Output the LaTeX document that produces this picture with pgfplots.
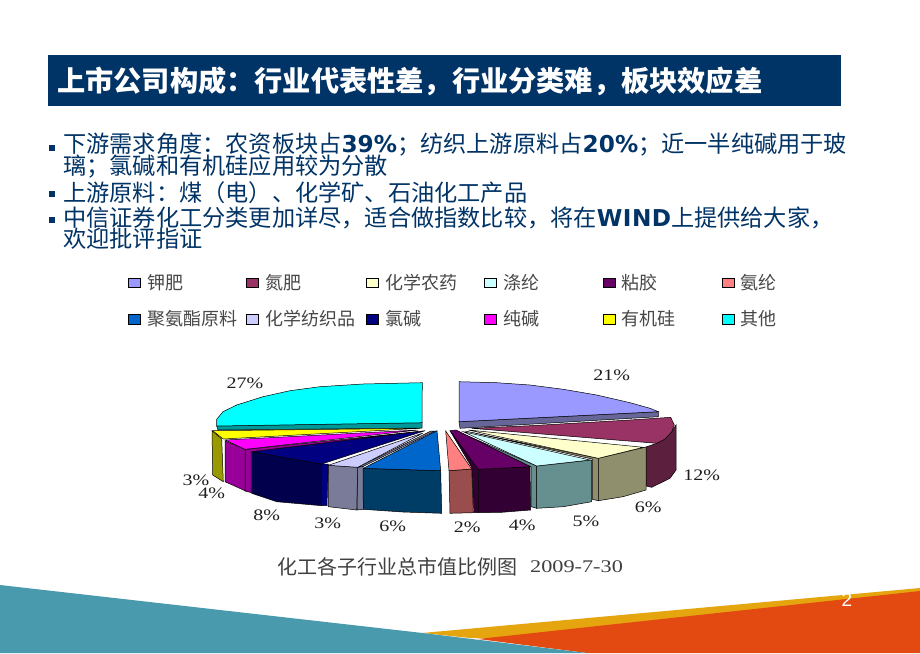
\documentclass[border=0pt]{standalone}
\usepackage{pgfplots}
\pgfplotsset{compat=1.18}
\usepackage{fontspec}
\setmainfont{Liberation Serif}
\newfontfamily\cjk{Noto Sans CJK SC}
\newfontfamily\latb{DejaVu Sans}
\newfontfamily\serifx[FakeStretch=1.25]{Liberation Serif}
\definecolor{navyb}{HTML}{003366}
\definecolor{HTMLgold}{HTML}{E5A50E}
\definecolor{HTMLred}{HTML}{E34A12}
\definecolor{HTMLteal}{HTML}{4A9AAE}
\definecolor{c01}{HTML}{9999FF}\definecolor{s01}{HTML}{666699}
\definecolor{c02}{HTML}{993366}\definecolor{s02}{HTML}{5C1F3D}
\definecolor{c03}{HTML}{FFFFCC}\definecolor{s03}{HTML}{8F8F6E}
\definecolor{c04}{HTML}{CCFFFF}\definecolor{s04}{HTML}{669090}
\definecolor{c05}{HTML}{660066}\definecolor{s05}{HTML}{330033}
\definecolor{c06}{HTML}{FF8080}\definecolor{s06}{HTML}{994D4D}
\definecolor{c07}{HTML}{0066CC}\definecolor{s07}{HTML}{003D66}
\definecolor{c08}{HTML}{CCCCFF}\definecolor{s08}{HTML}{7A7A99}
\definecolor{c09}{HTML}{000080}\definecolor{s09}{HTML}{00004D}
\definecolor{c10}{HTML}{FF00FF}\definecolor{s10}{HTML}{990099}
\definecolor{c11}{HTML}{FFFF00}\definecolor{s11}{HTML}{999900}
\definecolor{c12}{HTML}{00FFFF}\definecolor{s12}{HTML}{009999}
\newcommand{\poly}[2]{\addplot[fill=#1,draw=black,line width=0.5pt] coordinates {#2} -- cycle;}
\newcommand{\plain}[2]{\addplot[fill=#1,draw=none] coordinates {#2} -- cycle;}
\newcommand{\lab}[2]{\node[font=\serifx\fontsize{16}{16}\selectfont,text=black!88,inner sep=0pt] at (axis cs:#1) {#2};}
\newcommand{\leg}[2]{\node[anchor=west,inner sep=0pt,text=black!72,font=\cjk\fontsize{18}{18}\selectfont] at (axis cs:#1) {#2};}
\newcommand{\body}[2]{\node[anchor=west,inner sep=0pt,text=navyb,font=\cjk\fontsize{23.2}{23.2}\selectfont] at (axis cs:#1) {#2};}
\newcommand{\bl}[1]{{\latb\bfseries #1}}
\begin{document}
\begin{tikzpicture}
\begin{axis}[scale only axis,width=920pt,height=653pt,xmin=0,xmax=920,ymin=0,ymax=653,y dir=reverse,axis lines=none,no markers,clip=true]
\plain{white}{(0,0)(920,0)(920,653)(0,653)}
% footer band
\plain{white}{(458,637)(495,637)(495,641)(458,641)}
\plain{HTMLgold}{(422,633)(920,588)(920,653)(470,638)}
\plain{HTMLred}{(478,639)(920,591)(920,653)(587,653)}
\plain{HTMLteal}{(0,585)(422.6,633)(587,653)(0,653)}
% title bar and bullets
\plain{navyb}{(48,55)(841,55)(841,106)(48,106)}
\plain{navyb}{(49,144.5)(55,144.5)(55,150.5)(49,150.5)}
\plain{navyb}{(49,191)(55,191)(55,197)(49,197)}
\plain{navyb}{(49,217.3)(55,217.3)(55,223.3)(49,223.3)}
% legend swatches
\poly{c01}{(128.3,278)(140,278)(140,287)(128.3,287)}
\poly{c02}{(246.7,278)(258.3,278)(258.3,287)(246.7,287)}
\poly{c03}{(366,278)(378,278)(378,287)(366,287)}
\poly{c04}{(484.5,278)(496.5,278)(496.5,287)(484.5,287)}
\poly{c05}{(603,278)(615,278)(615,287)(603,287)}
\poly{c06}{(722.3,278)(734.3,278)(734.3,287)(722.3,287)}
\poly{c07}{(128.3,314.5)(140,314.5)(140,324)(128.3,324)}
\poly{c08}{(246.7,314.5)(258.3,314.5)(258.3,324)(246.7,324)}
\poly{c09}{(366,314.5)(378,314.5)(378,324)(366,324)}
\poly{c10}{(484.5,314.5)(496.5,314.5)(496.5,324)(484.5,324)}
\poly{c11}{(603,314.5)(615,314.5)(615,324)(603,324)}
\poly{c12}{(722.3,314.5)(734.3,314.5)(734.3,324)(722.3,324)}
% --- 21% slice
\poly{s01}{(459,421.7)(658.3,411.7)(658.3,416.7)(460,428.3)}
\poly{c01}{(459,381.7)(496.7,382.7)(530,385)(563.3,389.3)(596.7,395)(630,402.7)(650,408.3)(658.3,411.7)(459,421.7)}
% --- 27% slice
\poly{s12}{(216.7,426)(422,422.7)(422,428)(218,430)}
\poly{c12}{(422.3,382.7)(363,384)(320,386.7)(290,390.7)(263,396.7)(236.7,405)(223,411.7)(216.7,419.3)(216.7,426)(422,422.7)}
% --- 12% slice
\poly{s02}{(646,447)(656.7,443.3)(665,439)(671.7,431.7)(676,425)(676,470)(670,478.3)(651.7,487.3)(646,486)}
\poly{c02}{(471.7,428.3)(656.7,443.3)(665,439)(671.7,431.7)(674.3,425)(670.7,417.3)(630,420)(530,425.7)}
% --- 6% slice
\poly{s03}{(465,431)(592.3,459)(592.3,499.3)(598.3,500.7)(598.3,458.3)}
\poly{s03}{(598.3,458.3)(646,447)(646,490)(623,496.7)(598.3,500.7)}
\poly{c03}{(468.3,430)(598.3,458.3)(643.3,447.3)}
% --- 5% slice
\poly{s04}{(456.7,431)(531,466.7)(531,506.7)(536.7,508.3)(536.7,466)}
\poly{s04}{(536.7,466)(591.7,460)(591.7,501.7)(563.3,506.7)(536.7,508.3)}
\poly{c04}{(463.3,431.7)(536.7,466)(590,460)}
% --- 4% slice
\poly{s05}{(450,430.7)(478.3,469.3)(478.3,512.7)(474,512.7)(471.7,467.3)}
\poly{s05}{(478.3,469.3)(530,466.7)(530.7,510)(501.7,512.3)(478.3,512.7)}
\poly{c05}{(450,430.7)(478.3,469.3)(530,466.7)(456,430)}
% --- 2% slice
\poly{s06}{(449,470.7)(471.7,469)(473.3,512.7)(450,513.3)}
\poly{c06}{(445.7,431)(471.7,469)(449,470.7)}
% --- 6% blue slice
\poly{s07}{(363.3,468.3)(440.7,470.7)(441.7,513.3)(403,512)(363.3,509.3)}
\poly{c07}{(363.3,468.3)(440.7,470.7)(437,430.7)}
% --- 3% slice
\poly{s08}{(357.7,467.3)(363,466)(363.3,509.3)(357,510)}
\poly{s08}{(357.7,467.3)(431,431)(435,431)(363,466.5)}
\poly{s08}{(328.3,465.3)(357.7,467.3)(356.7,510)(328.3,506.7)}
\poly{c08}{(328.3,465.3)(357.7,467.3)(423,433)}
% --- 8% slice
\poly{c09}{(321.7,464)(328.3,464)(327,505.7)(321.7,505.7)}
\poly{s09}{(251.7,451.7)(321.7,464)(321.7,505.7)(276.7,501.7)(251.7,493.3)}
\poly{c09}{(251.7,451.7)(321.7,464)(425,430.7)}
% --- 4% magenta slice
\poly{s10}{(245,449.5)(418,431.5)(251,451.7)(251,492.5)(245,491)}
\poly{s10}{(225,441)(245,449.3)(245,490.7)(225,481.7)}
\poly{c10}{(225,440)(245,449.3)(418,430)}
% --- 3% yellow slice
\poly{s11}{(212,430.7)(221.7,439)(223.3,481.7)(212.7,475)}
\poly{c11}{(212.7,430.7)(420,428.3)(223.3,439)}
% data labels
\lab{611.7,375}{21\%}
\lab{701.7,475.7}{12\%}
\lab{648.3,507.3}{6\%}
\lab{586,521}{5\%}
\lab{522.3,525}{4\%}
\lab{467.3,527.7}{2\%}
\lab{392.7,526.7}{6\%}
\lab{327.7,523.3}{3\%}
\lab{266.7,515.7}{8\%}
\lab{211.7,493.3}{4\%}
\lab{196,480.5}{3\%}
\lab{245,383.3}{27\%}
% legend text
\leg{147.7,282.5}{钾肥}
\leg{265.7,282.5}{氮肥}
\leg{385,282.5}{化学农药}
\leg{503.3,282.5}{涤纶}
\leg{621.7,282.5}{粘胶}
\leg{740.7,282.5}{氨纶}
\leg{147.7,319}{聚氨酯原料}
\leg{265.7,319}{化学纺织品}
\leg{385,319}{氯碱}
\leg{503.3,319}{纯碱}
\leg{621.7,319}{有机硅}
\leg{740.7,319}{其他}
% caption
\node[anchor=west,inner sep=0pt,text=black!75,font=\cjk\fontsize{20}{20}\selectfont] at (axis cs:277,567) {化工各子行业总市值比例图};
\node[anchor=west,inner sep=0pt,text=black!75,font=\serifx\fontsize{17.8}{18}\selectfont] at (axis cs:530,567) {2009-7-30};
% title and body
\node[anchor=west,inner sep=0pt,text=white,font=\cjk\bfseries\fontsize{28.2}{28.2}\selectfont] at (axis cs:57,81) {上市公司构成：行业代表性差，行业分类难，板块效应差};
\body{63,145}{下游需求角度：农资板块占\bl{39\%}；纺织上游原料占\bl{20\%}；近一半纯碱用于玻}
\body{63,166.7}{璃；氯碱和有机硅应用较为分散}
\body{63,192.7}{上游原料：煤（电）、化学矿、石油化工产品}
\body{63,218.3}{中信证券化工分类更加详尽，适合做指数比较，将在\bl{W\kern.5pt I\kern.5pt N\kern.5pt D}上提供给大家，}
\body{63,238.8}{欢迎批评指证}
\node[inner sep=0pt,text=white,font=\fontspec{Liberation Sans}\fontsize{19}{19}\selectfont] at (axis cs:847,600) {2};
\end{axis}
\end{tikzpicture}
\end{document}
